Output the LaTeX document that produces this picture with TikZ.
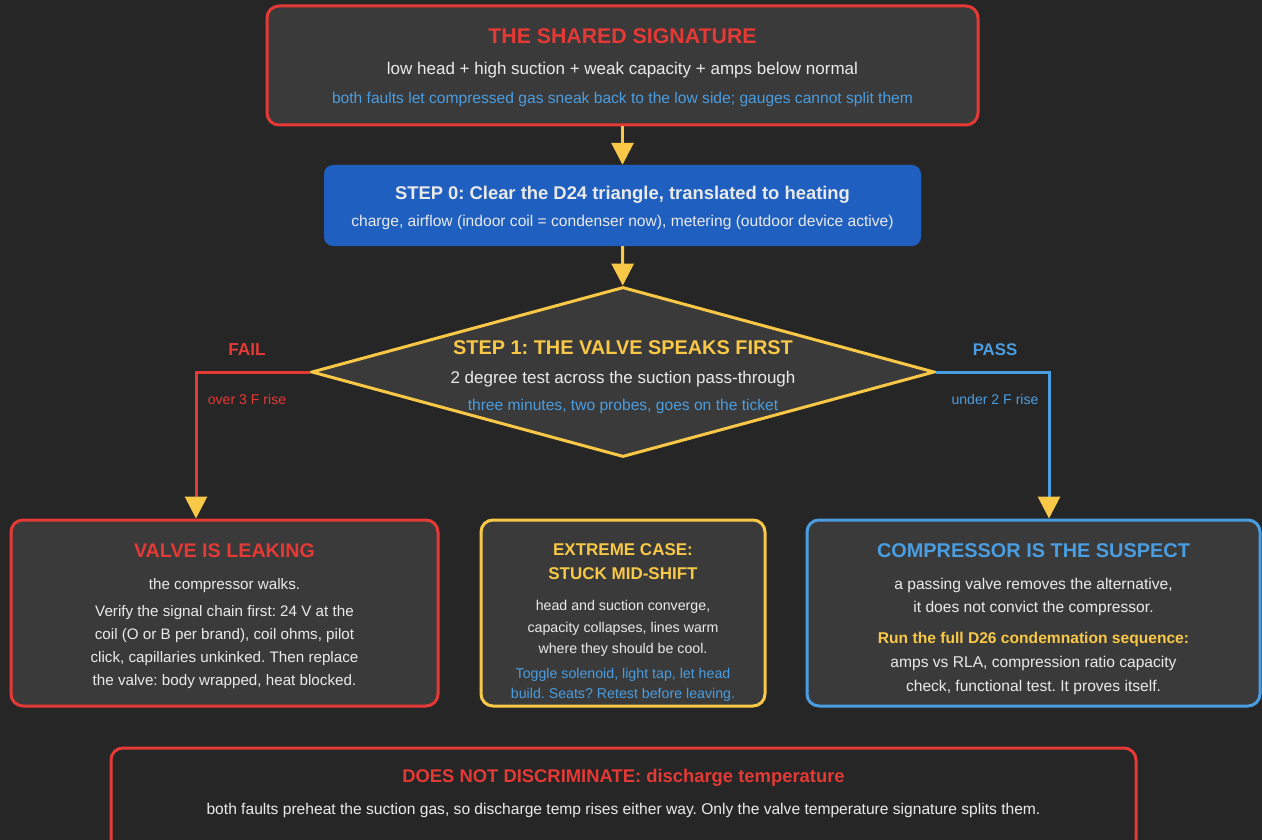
\documentclass[tikz,border=0pt]{standalone}
\usepackage{fontspec}
\setmainfont{Liberation Sans}
\frenchspacing
\usetikzlibrary{arrows.meta,shapes.geometric}
\definecolor{bgdark}{HTML}{262626}
\definecolor{boxgray}{HTML}{3A3A3A}
\definecolor{alertred}{HTML}{E53935}
\definecolor{warnyellow}{HTML}{F9C846}
\definecolor{infoblue}{HTML}{4A9DE0}
\definecolor{stepblue}{HTML}{1F5FC0}
\definecolor{softwhite}{HTML}{EAEAEA}

\begin{document}
\begin{tikzpicture}[x=1pt,y=-1pt,
  every node/.style={text=softwhite,align=center,inner sep=0pt},
  card/.style={draw,line width=3pt,rounded corners=12pt,fill=boxgray},
  flow/.style={line width=3pt,-{Triangle[width=22pt,length=22pt,color=warnyellow]}}]

\fill[bgdark] (0,0) rectangle (1262,840);
\useasboundingbox (0,0) rectangle (1262,840);

% top of the chain
\node[card,draw=alertred,minimum width=711pt,minimum height=119pt,font=\fontsize{17}{28}\selectfont] (signature) at (622.5,65.5)
  {{\fontsize{21.3}{21.3}\selectfont\bfseries\color{alertred}\rule{0pt}{19pt}THE SHARED SIGNATURE}\\[3pt]
   low head + high suction + weak capacity + amps below normal\\[1pt]
   {\fontsize{15.6}{15.6}\selectfont\color{infoblue}both faults let compressed gas sneak back to the low side; gauges cannot split them}};
\node[rectangle,rounded corners=9pt,fill=stepblue,minimum width=597pt,minimum height=81pt,font=\fontsize{15.6}{27}\selectfont] (step0) at (622.5,205.5)
  {{\fontsize{18.4}{18.4}\selectfont\bfseries\rule{0pt}{18pt}STEP 0: Clear the D24 triangle, translated to heating}\\
   charge, airflow (indoor coil = condenser now), metering (outdoor device active)};
\node[diamond,draw=warnyellow,line width=3pt,fill=boxgray,minimum width=623pt,minimum height=170pt] (valve) at (623,372) {};
\node[font=\fontsize{17}{27}\selectfont] (valvetext) at (623,377)
  {{\fontsize{19.9}{19.9}\selectfont\bfseries\color{warnyellow}STEP 1: THE VALVE SPEAKS FIRST}\\[2pt]
   2 degree test across the suction pass-through\\
   {\fontsize{15.6}{15.6}\selectfont\color{infoblue}three minutes, two probes, goes on the ticket}};

% outcomes
\node[card,draw=alertred,minimum width=427pt,minimum height=186pt,font=\fontsize{15.2}{23}\selectfont] (leak) at (224.5,613)
  {{\fontsize{19.7}{19.7}\selectfont\bfseries\color{alertred}\rule{0pt}{21pt}VALVE IS LEAKING}\\[9pt]
   the compressor walks.\\[4pt]
   Verify the signal chain first: 24 V at the\\
   coil (O or B per brand), coil ohms, pilot\\
   click, capillaries unkinked. Then replace\\
   the valve: body wrapped, heat blocked.};
\node[card,draw=warnyellow,minimum width=284pt,minimum height=186pt,font=\fontsize{14.2}{22}\selectfont] (midshift) at (623,613)
  {{\fontsize{17}{17}\selectfont\bfseries\color{warnyellow}\rule{0pt}{30pt}EXTREME CASE:}\\[2pt]
   {\fontsize{17}{17}\selectfont\bfseries\color{warnyellow}STUCK MID-SHIFT}\\[9pt]
   head and suction converge,\\
   capacity collapses, lines warm\\[-1pt]
   where they should be cool.\\[3pt]
   {\color{infoblue}Toggle solenoid, light tap, let head}\\[-2pt]
   {\color{infoblue}build. Seats? Retest before leaving.}};
\node[card,draw=infoblue,minimum width=453pt,minimum height=186pt,font=\fontsize{15.6}{24}\selectfont] (suspect) at (1033.5,613)
  {{\fontsize{19.9}{19.9}\selectfont\bfseries\color{infoblue}\rule{0pt}{27pt}COMPRESSOR IS THE SUSPECT}\\[8pt]
   a passing valve removes the alternative,\\[-1pt]
   it does not convict the compressor.\\[7pt]
   {\fontsize{15.6}{15.6}\selectfont\bfseries\color{warnyellow}Run the full D26 condemnation sequence:}\\
   amps vs RLA, compression ratio capacity\\
   check, functional test. It proves itself.};

% footer
\node[card,draw=alertred,fill=bgdark,minimum width=1025pt,minimum height=104pt,font=\fontsize{15.6}{32}\selectfont] (nodiscr) at (623.5,800)
  {{\fontsize{18.4}{18.4}\selectfont\bfseries\color{alertred}DOES NOT DISCRIMINATE: discharge temperature}\\
   both faults preheat the suction gas, so discharge temp rises either way. Only the valve temperature signature splits them.\rule[-16pt]{0pt}{0pt}};

% branch labels
\node[font=\fontsize{17.3}{17.3}\selectfont\bfseries,text=alertred] (faillbl) at (247,350) {FAIL};
\node[font=\fontsize{14.1}{14.1}\selectfont,text=alertred] (failnote) at (247,399) {over 3 F rise};
\node[font=\fontsize{16.8}{16.8}\selectfont\bfseries,text=infoblue] (passlbl) at (995,350) {PASS};
\node[font=\fontsize{14.1}{14.1}\selectfont,text=infoblue] (passnote) at (995,399) {under 2 F rise};

\coordinate (failbend) at (196,372);
\coordinate (passbend) at (1049,372);

\draw[flow,warnyellow] (signature) -- (step0);
\draw[flow,warnyellow] (step0) -- (valve);
\draw[flow,alertred] (valve.west) -- (failbend) -- (failbend |- leak.north);
\draw[flow,infoblue] (valve.east) -- (passbend) -- (passbend |- suspect.north);
\end{tikzpicture}
\end{document}
